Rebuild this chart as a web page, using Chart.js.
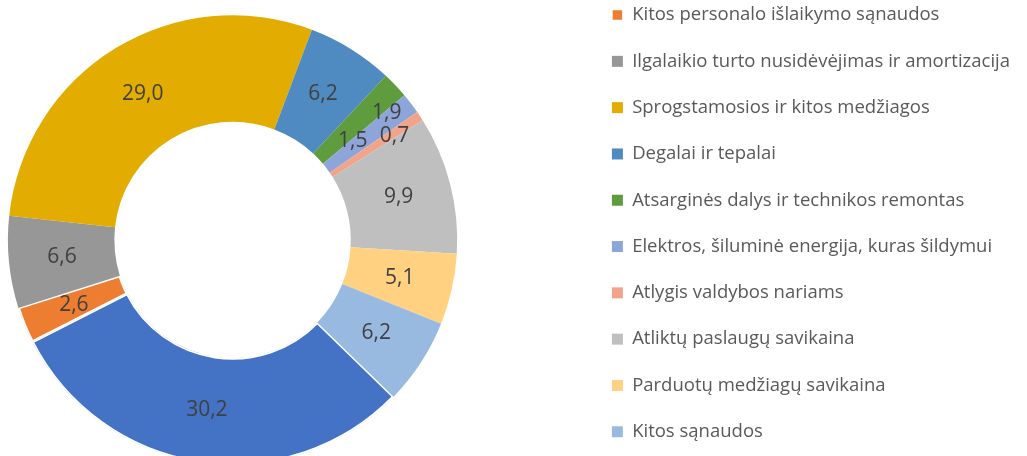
<!DOCTYPE html>
<html>
<head>
<meta charset="utf-8">
<script src="https://cdn.jsdelivr.net/npm/chart.js@4.4.1/dist/chart.umd.min.js"></script>
<style>
    html, body { margin: 0; padding: 0; background: #fff; overflow: hidden; }
    /* the reference is a crop of a bigger chart, so the canvas runs past the frame */
    #wrap { position: absolute; left: -119px; top: -22px; width: 1139px; height: 524px; }
</style>
</head>
<body>
<div id="wrap"><canvas id="costs"></canvas></div>
<script>
// first category sits above the cropped frame, its legend text is not visible
const categories = [
    '',
    'Kitos personalo išlaikymo sąnaudos',
    'Ilgalaikio turto nusidėvėjimas ir amortizacija',
    'Sprogstamosios ir kitos medžiagos',
    'Degalai ir tepalai',
    'Atsarginės dalys ir technikos remontas',
    'Elektros, šiluminė energija, kuras šildymui',
    'Atlygis valdybos nariams',
    'Atliktų paslaugų savikaina',
    'Parduotų medžiagų savikaina',
    'Kitos sąnaudos'
];
const shares = [30.2, 2.6, 6.6, 29.0, 6.2, 1.9, 1.5, 0.7, 9.9, 5.1, 6.2];
const colours = ['#4472C4', '#ED7D31', '#979797', '#E2AC00', '#4F8BC0', '#5E9C3E',
                 '#8EA5D9', '#F2A48A', '#BFBFBF', '#FFD180', '#99BAE0'];
const borders = [1.5, 1.5, 0, 0, 0, 0, 0, 0, 0, 0, 0];

// small slices: labels pushed aside like in the original
const labelNudge = {5: [30, -9], 6: [-16, 5], 7: [19, -9]};

const sliceLabels = {
    id: 'sliceLabels',
    afterDatasetsDraw(chart) {
        const ctx = chart.ctx;
        const meta = chart.getDatasetMeta(0);
        ctx.save();
        ctx.font = '21px "Open Sans"';
        ctx.fillStyle = '#404040';
        ctx.textAlign = 'center';
        ctx.textBaseline = 'middle';
        meta.data.forEach((arc, i) => {
            const p = arc.tooltipPosition();
            const n = labelNudge[i] || [0, 0];
            ctx.fillText(shares[i].toFixed(1).replace('.', ','), p.x + n[0], p.y + n[1]);
        });
        ctx.restore();
    }
};

const ctx = document.getElementById('costs').getContext('2d');
const chart = new Chart(ctx, {
    type: 'doughnut',
    data: {
        labels: categories,
        datasets: [{
            data: shares,
            backgroundColor: colours,
            borderColor: '#ffffff',
            borderWidth: borders,
            borderAlign: 'inner'
        }]
    },
    options: {
        responsive: true,
        maintainAspectRatio: false,
        animation: false,
        rotation: 134.2,
        radius: 225,
        cutout: '52.4%',
        plugins: {
            tooltip: { enabled: false },
            legend: {
                position: 'right',
                align: 'start',
                labels: {
                    boxWidth: 11,
                    boxHeight: 11,
                    padding: 27.8,
                    color: '#595959',
                    font: { family: '"Open Sans"', size: 18.5 },
                    filter: item => item.index !== 0
                }
            }
        }
    },
    plugins: [sliceLabels]
});
</script>
</body>
</html>
